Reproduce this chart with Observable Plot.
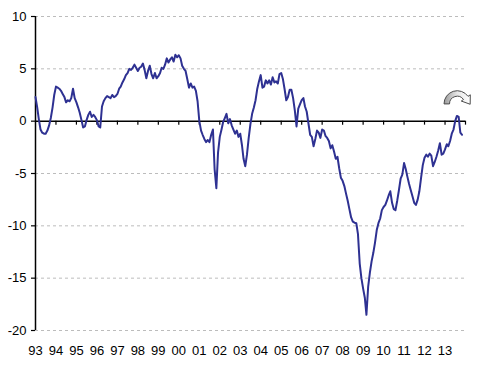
<!DOCTYPE html>
<html>
<head>
<meta charset="utf-8">
<script src="https://cdn.jsdelivr.net/npm/d3@7"></script>
<script src="https://cdn.jsdelivr.net/npm/@observablehq/plot@0.6"></script>
<style>
  html, body { margin: 0; padding: 0; background: #fff; }
</style>
</head>
<body>
<div id="chart"></div>
<script>
// Monthly values, Jan of each year to Dec (2013 ends in Nov)
const v1993 = [2.3, 1.3, 0.2, -0.8, -1.1, -1.2, -1.2, -0.9, -0.4, 0.3, 1.3, 2.5];
const v1994 = [3.3, 3.2, 3.1, 2.9, 2.6, 2.3, 1.8, 2.0, 1.9, 2.2, 3.1, 2.2];
const v1995 = [1.8, 1.3, 0.8, 0.1, -0.6, -0.5, 0.1, 0.6, 0.9, 0.4, 0.6, 0.4];
const v1996 = [0.1, -0.5, -0.6, 1.4, 1.9, 2.2, 2.4, 2.3, 2.2, 2.5, 2.3, 2.4];
const v1997 = [2.6, 3.1, 3.3, 3.7, 4.0, 4.4, 4.6, 5.0, 4.9, 5.1, 5.4, 5.1];
const v1998 = [4.8, 5.1, 5.2, 5.5, 4.9, 4.1, 4.8, 5.3, 4.5, 4.1, 4.6, 4.1];
const v1999 = [4.3, 4.6, 5.1, 5.0, 5.4, 6.0, 5.6, 5.9, 6.1, 5.7, 6.35, 6.1];
const v2000 = [6.3, 6.0, 5.3, 5.0, 4.8, 4.0, 3.2, 3.6, 3.2, 3.3, 2.9, 1.9];
const v2001 = [0.0, -0.9, -1.3, -1.7, -2.0, -1.8, -2.0, -1.3, -0.8, -4.6, -6.4, -3.0];
const v2002 = [-1.5, -0.8, -0.1, 0.3, 0.7, -0.2, 0.2, -0.4, -0.8, -1.2, -0.9, -1.5];
const v2003 = [-1.2, -2.3, -3.6, -4.3, -3.2, -1.6, -0.3, 0.7, 1.3, 2.0, 3.1, 3.8];
const v2004 = [4.4, 3.2, 3.3, 3.9, 3.6, 3.9, 3.5, 4.2, 3.7, 3.8, 3.6, 4.5];
const v2005 = [4.6, 4.0, 3.1, 2.0, 2.3, 3.0, 3.0, 2.2, 1.0, -0.5, 1.2, 1.6];
const v2006 = [2.0, 2.2, 1.4, 0.9, -0.2, -1.3, -1.5, -2.4, -1.7, -0.9, -1.1, -1.6];
const v2007 = [-0.8, -0.9, -1.4, -1.6, -1.9, -2.6, -2.3, -2.9, -3.6, -3.4, -4.5, -5.4];
const v2008 = [-5.7, -6.2, -6.9, -7.6, -8.4, -9.2, -9.6, -9.7, -9.75, -10.8, -13.6, -15.0];
const v2009 = [-16.0, -16.9, -18.5, -15.8, -14.5, -13.4, -12.6, -11.6, -10.4, -9.75, -9.3, -8.5];
const v2010 = [-8.2, -8.0, -7.6, -7.1, -6.7, -7.8, -8.4, -8.5, -7.6, -6.6, -5.5, -5.1];
const v2011 = [-4.0, -4.6, -5.3, -6.0, -6.6, -7.2, -7.8, -8.0, -7.5, -6.7, -5.4, -4.2];
const v2012 = [-3.5, -3.2, -3.4, -3.1, -3.3, -4.3, -3.9, -3.4, -2.8, -2.1, -3.2, -3.1];
const v2013 = [-2.7, -2.2, -2.4, -1.9, -1.2, -0.8, 0.0, 0.5, 0.4, -1.1, -1.3];

const firstYear = 1993;
const yearlySeries = [v1993, v1994, v1995, v1996, v1997, v1998, v1999, v2000, v2001, v2002,
  v2003, v2004, v2005, v2006, v2007, v2008, v2009, v2010, v2011, v2012, v2013];

const yTicks = [-20, -15, -10, -5, 0, 5, 10];
const gridValues = [-20, -15, -10, -5, 5, 10];
const yearLabels = ["93","94","95","96","97","98","99","00","01","02","03","04","05","06","07","08","09","10","11","12","13"];

// build table
const data = [];
yearlySeries.forEach((arr, i) => {
  arr.forEach((v, m) => data.push({date: new Date(Date.UTC(firstYear + i, m, 1)), value: v}));
});
const labelDates = yearLabels.map((_, i) => new Date(Date.UTC(firstYear + i, 0, 1)));
const tickDates = d3.range(firstYear + 1, firstYear + yearLabels.length + 1).map(y => new Date(Date.UTC(y, 0, 1)));
const xStart = new Date(Date.UTC(firstYear, 0, 1));
const xEnd = new Date(Date.UTC(firstYear + yearLabels.length, 0, 1));

const chart = Plot.plot({
  width: 481,
  height: 367,
  marginLeft: 35,
  marginRight: 16,
  marginTop: 16,
  marginBottom: 37,
  style: {fontFamily: "'Liberation Sans', Arial, sans-serif", fontSize: "13px", color: "#000", background: "#fff", overflow: "visible"},
  x: {type: "utc", domain: [xStart, xEnd]},
  y: {domain: [-20, 10]},
  marks: [
    Plot.ruleY(gridValues, {stroke: "#bcbcbc", strokeWidth: 1, strokeDasharray: "3,3"}),
    Plot.axisY({ticks: yTicks, tickSize: 4, tickPadding: 5, tickFormat: d => String(d), label: null, stroke: "#000", strokeWidth: 1.2}),
    Plot.axisX({ticks: labelDates, tickFormat: (d, i) => yearLabels[i], tickSize: 0, tickPadding: 15, label: null}),
    Plot.ruleX([xStart], {y1: -20, y2: 10, stroke: "#000", strokeWidth: 1.5}),
    Plot.ruleY([0], {stroke: "#000", strokeWidth: 1.5}),
    Plot.ruleX(tickDates, {x: d => d, y1: 0, y2: -0.38, stroke: "#000", strokeWidth: 1.2}),
    Plot.line(data, {x: "date", y: "value", stroke: "#2e3192", strokeWidth: 2, strokeLinejoin: "round"})
  ]
});

// decorative curved-arrow icon near the end of the series
const xs = chart.scale("x"), ys = chart.scale("y");
const cx = xs.apply(new Date(Date.UTC(2013, 7, 15)));
const cy = ys.apply(1.6);
const ns = "http://www.w3.org/2000/svg";
const defs = document.createElementNS(ns, "defs");
defs.innerHTML = '<linearGradient id="arrowGrad" x1="0" y1="0" x2="1" y2="0"><stop offset="0" stop-color="#9a9a9a"/><stop offset="0.5" stop-color="#e6e6e6"/><stop offset="1" stop-color="#ffffff"/></linearGradient>';
chart.appendChild(defs);
const g = document.createElementNS(ns, "g");
g.setAttribute("transform", `translate(${cx},${cy}) scale(1.1)`);
const p = document.createElementNS(ns, "path");
p.setAttribute("d", "M -12 0 A 12 12 0 0 1 9.83 -6.88 L 11.9 -8.3 L 11.8 0.3 L 3.7 -2.6 L 5.73 -4.01 A 7 7 0 0 0 -7 0 Z");
p.setAttribute("fill", "url(#arrowGrad)");
p.setAttribute("stroke", "#4a4a4a");
p.setAttribute("stroke-width", "0.9");
p.setAttribute("stroke-linejoin", "round");
g.appendChild(p);
chart.appendChild(g);

document.getElementById("chart").appendChild(chart);
</script>
</body>
</html>
